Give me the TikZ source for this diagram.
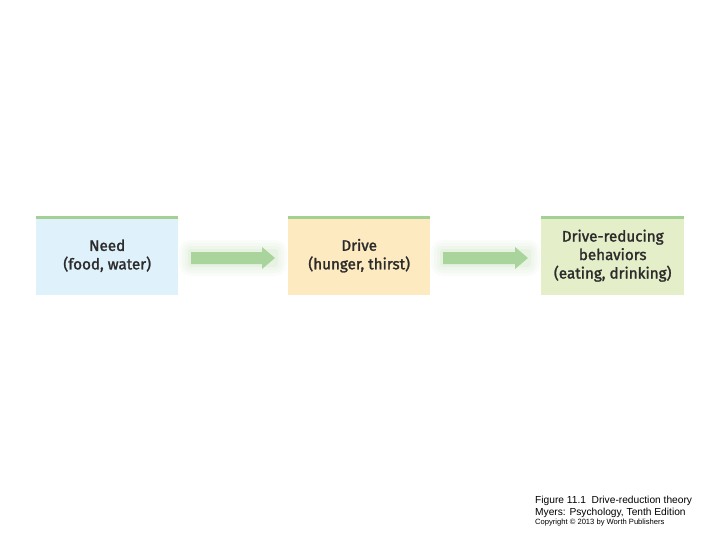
\documentclass[tikz,border=0pt]{standalone}
\usepackage{fontspec}
\setmainfont{Fira Sans}
\newfontfamily\boxfont{Fira Sans}[FakeBold=1.6]
\newfontfamily\capfont{Liberation Sans}
\definecolor{boxblue}{HTML}{DFF1FB}
\definecolor{boxyellow}{HTML}{FDEAC0}
\definecolor{boxgreen}{HTML}{E4EEC8}
\definecolor{stripe}{HTML}{A3D193}
\definecolor{arrowgreen}{HTML}{A9D49C}
\definecolor{txt}{HTML}{2B2B2B}
\begin{document}
\begin{tikzpicture}[x=1pt,y=-1pt,
  boxnode/.style={minimum width=142pt,minimum height=79pt,inner sep=0pt,anchor=north west,
    align=center,text=txt,font=\boxfont\fontsize{15.2}{18.5}\selectfont},
  stripeline/.style={draw=stripe,line width=3pt},
  fatarrow/.style={fill=arrowgreen,draw=none}]
\useasboundingbox (0,0) rectangle (720,540);
\fill[white] (0,0) rectangle (720,540);
\node[boxnode,fill=boxblue] (need) at (36,216) {Need\\(food, water)};
\node[boxnode,fill=boxyellow] (drive) at (288,216) {Drive\\(hunger, thirst)};
\node[boxnode,fill=boxgreen,minimum width=143pt] (beh) at (541,216) {Drive-reducing\\behaviors\\(eating, drinking)};
\draw[stripeline] ([yshift=-1.5pt]need.north west) -- ([yshift=-1.5pt]need.north east);
\draw[stripeline] ([yshift=-1.5pt]drive.north west) -- ([yshift=-1.5pt]drive.north east);
\draw[stripeline] ([yshift=-1.5pt]beh.north west) -- ([yshift=-1.5pt]beh.north east);
\coordinate (a1s) at (191,258); \coordinate (a1e) at (275,258);
\coordinate (a2s) at (443,258); \coordinate (a2e) at (528,258);
\foreach \s/\e in {a1s/a1e,a2s/a2e}{
  \foreach \w/\o in {12/0.05,9/0.06,6/0.08,3/0.1}{
    \fill[arrowgreen,opacity=\o,rounded corners=\w pt] ([xshift=-\w pt,yshift=-6pt-\w pt]\s) rectangle ([xshift=\w pt,yshift=6pt+\w pt]\e);
  }
  \fill[fatarrow] ([yshift=-6pt]\s) -- ([xshift=-13pt,yshift=-6pt]\e) -- ([xshift=-13pt,yshift=-11pt]\e) -- (\e)
    -- ([xshift=-13pt,yshift=11pt]\e) -- ([xshift=-13pt,yshift=6pt]\e) -- ([yshift=6pt]\s) -- cycle;
}
\node[anchor=north west,inner sep=0pt,align=left,font=\capfont\fontsize{10.2}{12}\selectfont,text=black] (cap) at (535,496)
  {Figure 11.1\ \ Drive-reduction theory\\Myers: Psychology, Tenth Edition};
\node[anchor=north west,inner sep=0pt,font=\capfont\fontsize{7.6}{9}\selectfont,text=black] (copy) at (535,519)
  {Copyright \textcopyright\ 2013 by Worth Publishers};
\end{tikzpicture}
\end{document}
